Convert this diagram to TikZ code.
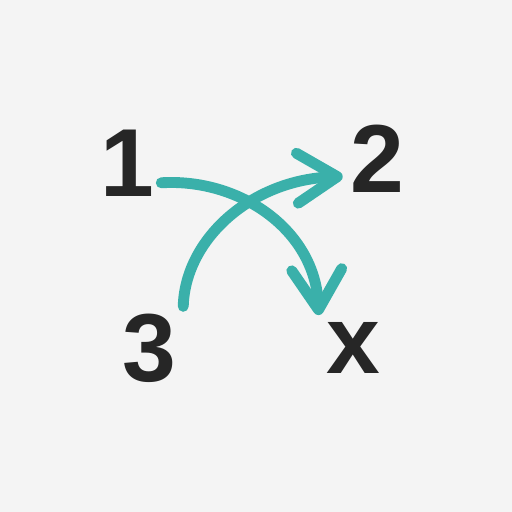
\documentclass[tikz,border=0pt]{standalone}
\usepackage{fontspec}
\setmainfont{Liberation Sans}
\usetikzlibrary{positioning,arrows.meta}
\definecolor{bgcol}{HTML}{F4F4F4}
\definecolor{inkcol}{HTML}{262626}
\definecolor{tealcol}{HTML}{3AB0AA}

\begin{document}
\begin{tikzpicture}[
    x=0.02cm, y=-0.02cm,
    num/.style={text=inkcol, inner sep=4pt,
      font=\bfseries\fontsize{55}{66}\selectfont},
    arr/.style={-{Straight Barb[length=0.8cm, width=1cm, round]},
      line width=6.2pt, draw=tealcol, line cap=round},
  ]
    \fill[bgcol] (0,0) rectangle (512,512);
    \useasboundingbox (0,0) rectangle (512,512);
    \node[num] (one) at (127,163) {1};
    \node[num] (two) at (377,159) {2};
    \node[num] (three) at (149,348) {3};
    \node[num] (ex) at (353,348) {x};
    \draw[arr] (one.-30) .. controls (240,178) and (315,230) .. (ex.north west);
    \draw[arr] (three.north east) .. controls (185,240) and (250,180) .. (two.207);
  \end{tikzpicture}
\end{document}
